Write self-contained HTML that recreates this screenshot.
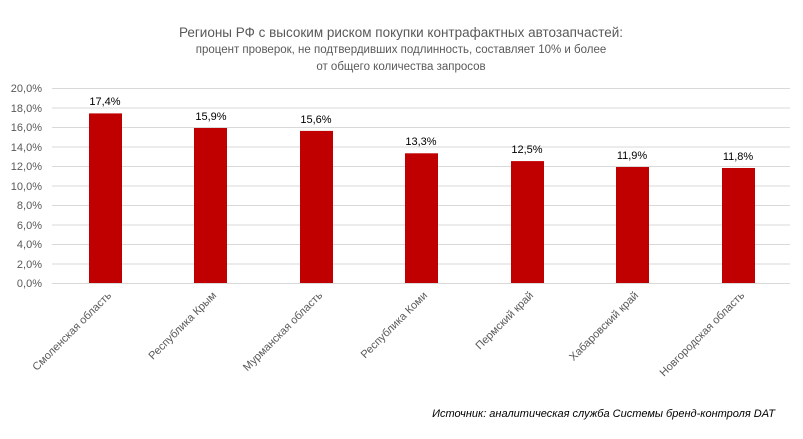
<!DOCTYPE html>
<html><head><meta charset="utf-8"><style>
html,body{margin:0;padding:0;background:#fff}
svg{display:block}
text{font-family:"Liberation Sans",sans-serif}
</style></head><body>
<svg width="803" height="439" viewBox="0 0 803 439">
<rect width="803" height="439" fill="#fff"/>
<text x="401" y="37" text-anchor="middle" font-size="13.5" fill="#595959">Регионы РФ с высоким риском покупки контрафактных автозапчастей:</text>
<text x="401" y="53" text-anchor="middle" font-size="11.5" fill="#595959">процент проверок,  не подтвердивших  подлинность, составляет 10% и более</text>
<text x="401" y="70" text-anchor="middle" font-size="11.5" fill="#595959">от общего  количества запросов</text>
<g stroke="#d9d9d9" stroke-width="1">
<line x1="52" x2="790" y1="88.5" y2="88.5"/>
<line x1="52" x2="790" y1="108" y2="108"/>
<line x1="52" x2="790" y1="127.5" y2="127.5"/>
<line x1="52" x2="790" y1="147" y2="147"/>
<line x1="52" x2="790" y1="166.5" y2="166.5"/>
<line x1="52" x2="790" y1="186" y2="186"/>
<line x1="52" x2="790" y1="205.5" y2="205.5"/>
<line x1="52" x2="790" y1="225" y2="225"/>
<line x1="52" x2="790" y1="244.5" y2="244.5"/>
<line x1="52" x2="790" y1="264" y2="264"/>
<line x1="52" x2="790" y1="283.5" y2="283.5"/>
</g>
<g font-size="11" fill="#595959" text-anchor="end">
<text x="42" y="92">20,0%</text><text x="42" y="112">18,0%</text><text x="42" y="131">16,0%</text>
<text x="42" y="151">14,0%</text><text x="42" y="170">12,0%</text><text x="42" y="190">10,0%</text>
<text x="42" y="209">8,0%</text><text x="42" y="229">6,0%</text><text x="42" y="248">4,0%</text>
<text x="42" y="268">2,0%</text><text x="42" y="287">0,0%</text>
</g>
<g fill="#c00000">
<rect x="89" y="113.4" width="33" height="169.6"/>
<rect x="194" y="128" width="33" height="155"/>
<rect x="300" y="130.9" width="33" height="152.1"/>
<rect x="405" y="153.3" width="33" height="129.7"/>
<rect x="511" y="161.1" width="33" height="121.9"/>
<rect x="616" y="167" width="33" height="116"/>
<rect x="722" y="168" width="33" height="115"/>
</g>
<g font-size="11" fill="#000" text-anchor="middle">
<text x="105" y="105">17,4%</text><text x="211" y="120">15,9%</text><text x="316" y="123">15,6%</text>
<text x="421" y="145">13,3%</text><text x="527" y="153">12,5%</text><text x="632" y="159">11,9%</text>
<text x="738" y="160">11,8%</text>
</g>
<g font-size="11" fill="#595959" text-anchor="end">
<text transform="translate(112,296) rotate(-45)">Смоленская область</text>
<text transform="translate(217,296) rotate(-45)">Республика Крым</text>
<text transform="translate(323,296) rotate(-45)">Мурманская область</text>
<text transform="translate(428,296) rotate(-45)">Республика Коми</text>
<text transform="translate(534,296) rotate(-45)">Пермский край</text>
<text transform="translate(639,296) rotate(-45)">Хабаровский край</text>
<text transform="translate(745,296) rotate(-45)">Новгородская область</text>
</g>
<text x="775" y="417" text-anchor="end" font-size="11" font-style="italic" fill="#000">Источник: аналитическая служба Системы бренд-контроля DAT</text>
</svg>
</body></html>
